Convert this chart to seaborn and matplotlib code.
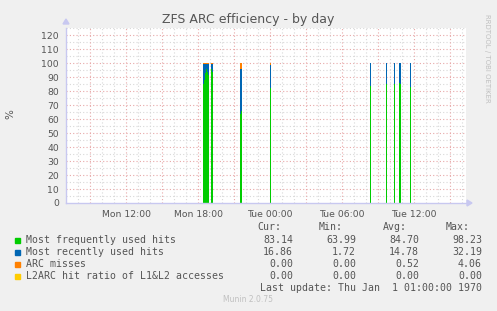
import matplotlib
matplotlib.use("Agg")
import matplotlib.pyplot as plt
import matplotlib.dates as mdates
import seaborn as sns
import pandas as pd
import numpy as np

# ---- data ----
sample_times = ["Mon 18:25", "Mon 18:30", "Mon 18:35", "Mon 18:40", "Mon 18:45", "Mon 18:50",
                "Mon 19:05", "Mon 19:10", "Mon 21:30", "Mon 21:35", "Tue 00:00",
                "Tue 08:20", "Tue 09:40", "Tue 10:20", "Tue 10:45", "Tue 10:50", "Tue 11:40"]
mfu_hits = [85, 88, 93, 96, 94, 92, 96, 94, 64, 66, 82, 84, 85, 85, 86, 85, 83.14]
mru_hits = [14.5, 11.5, 6.5, 3.5, 5.5, 7.5, 3.5, 5.5, 32, 30, 16.5, 16, 15, 15, 14, 15, 16.86]
arc_misses = [0.5, 0.5, 0.5, 0.5, 0.5, 0.5, 0.5, 0.5, 4, 4, 1.5, 0, 0, 0, 0, 0, 0]
l2arc_ratio = [0] * len(sample_times)

series_names = ["Most frequently used hits", "Most recently used hits", "ARC misses",
                "L2ARC hit ratio of L1&L2 accesses"]
series_colors = ["#00CC00", "#0066B3", "#FF8000", "#FFCC00"]
stat_cur = ["83.14", "16.86", "0.00", "0.00"]
stat_min = ["63.99", "1.72", "0.00", "0.00"]
stat_avg = ["84.70", "14.78", "0.52", "0.00"]
stat_max = ["98.23", "32.19", "4.06", "0.00"]

x_tick_labels = ["Mon 12:00", "Mon 18:00", "Tue 00:00", "Tue 06:00", "Tue 12:00"]

# ---- helpers ----
base = pd.Timestamp("2024-01-01")  # a Monday
def to_ts(s):
    day, hm = s.split()
    h, m = map(int, hm.split(":"))
    return base + pd.Timedelta(days=(0 if day == "Mon" else 1), hours=h, minutes=m)

df = pd.DataFrame({
    "time": [to_ts(s) for s in sample_times],
    series_names[0]: mfu_hits,
    series_names[1]: mru_hits,
    series_names[2]: arc_misses,
    series_names[3]: l2arc_ratio,
})

sns.set_theme(style="white")
plt.rcParams["font.family"] = ["DejaVu Sans"]

W, H = 497, 311
fig = plt.figure(figsize=(W / 100, H / 100), dpi=100, facecolor="#F0F0F0")
L, R, T, B = 66, 466, 28, 203
ax = fig.add_axes([L / W, (H - B) / H, (R - L) / W, (B - T) / H])
ax.set_facecolor("white")

xmin = base + pd.Timedelta(hours=7)
xmax = xmin + pd.Timedelta(hours=400 * 5 / 60)
ax.set_xlim(mdates.date2num(xmin), mdates.date2num(xmax))
ax.set_ylim(0, 125.3)

# grid
minor_c = "#d8d8d8"
major_c = "#e8a8a8"
for v in np.arange(5, 126, 5):
    c = major_c if v % 10 == 0 else minor_c
    ax.axhline(v, color=c, lw=0.8, ls=(0, (1, 2)), zorder=0)
h = xmin + pd.Timedelta(hours=1)
while h < xmax:
    c = major_c if h.hour % 3 == 0 else minor_c
    ax.axvline(mdates.date2num(h), color=c, lw=0.8, ls=(0, (1, 2)), zorder=0)
    h += pd.Timedelta(hours=1)

# stacked bars
xnum = mdates.date2num(df["time"])
width = 5 / 1440
bottom = np.zeros(len(df))
for name, col in zip(series_names, series_colors):
    vals = df[name].to_numpy(dtype=float)
    ax.bar(xnum, vals, width=width, bottom=bottom, color=col, align="edge",
           linewidth=0, zorder=2)
    bottom = bottom + vals

# axes styling
for s in ["top", "right"]:
    ax.spines[s].set_visible(False)
for s in ["left", "bottom"]:
    ax.spines[s].set_color("#c8c8f0")
    ax.spines[s].set_linewidth(1.0)

ax.set_yticks(np.arange(0, 121, 10))
ax.set_yticklabels([str(v) for v in range(0, 121, 10)])
tick_pos = [mdates.date2num(to_ts(s)) for s in x_tick_labels]
ax.set_xticks(tick_pos)
ax.set_xticklabels(x_tick_labels)
ax.tick_params(axis="both", labelsize=6.7, colors="#555555", length=2, width=0.8, pad=3)
ax.tick_params(axis="x", colors=major_c, labelcolor="#555555")
ax.tick_params(axis="y", colors=major_c, labelcolor="#555555")
ax.set_ylabel("")
fig.text(10 / W, 1 - 114 / H, "%", rotation=90, ha="center", va="center",
         fontsize=7.5, color="#555555")

# arrows
fig.patches.append(plt.Polygon([[(L - 3) / W, (H - 24) / H], [(L + 3) / W, (H - 24) / H], [L / W, (H - 19) / H]],
                               closed=True, transform=fig.transFigure, color="#c8c8f0"))
fig.patches.append(plt.Polygon([[(R + 1) / W, (H - B - 3) / H], [(R + 1) / W, (H - B + 3) / H], [(R + 6) / W, (H - B) / H]],
                               closed=True, transform=fig.transFigure, color="#c8c8f0"))

# title
fig.text(248.5 / W, 1 - 19.5 / H, "ZFS ARC efficiency - by day", ha="center", va="center",
         fontsize=9.0, color="#555555")
fig.text(487.5 / W, 1 - 58.5 / H, "RRDTOOL / TOBI OETIKER", rotation=270, ha="center", va="center",
         fontsize=5.0, color="#c0c0c0")

# legend
mono = "DejaVu Sans Mono"
fs = 7.1
tc = "#555555"
def ty(y):
    return 1 - y / H
for lbl, xr in zip(["Cur:", "Min:", "Avg:", "Max:"], [281, 343, 407, 470]):
    fig.text(xr / W, ty(227), lbl, ha="right", va="center", family=mono, fontsize=fs, color=tc)
rows_y = [240, 252, 264, 276]
for i, name in enumerate(series_names):
    y = rows_y[i]
    fig.patches.append(plt.Rectangle((14.5 / W, ty(y + 2.5)), 5 / W, 5 / H,
                                     transform=fig.transFigure, color=series_colors[i]))
    fig.text(26 / W, ty(y), name, ha="left", va="center", family=mono, fontsize=fs, color=tc)
    for val, xr in zip([stat_cur[i], stat_min[i], stat_avg[i], stat_max[i]], [293, 356, 419, 482]):
        fig.text(xr / W, ty(y), val, ha="right", va="center", family=mono, fontsize=fs, color=tc)
fig.text(482 / W, ty(288), "Last update: Thu Jan  1 01:00:00 1970", ha="right", va="center",
         family=mono, fontsize=fs, color=tc)
fig.text(248 / W, ty(299.5), "Munin 2.0.75", ha="center", va="center", fontsize=5.5, color="#c0c0c0")

fig.savefig("out.png", dpi=100, facecolor=fig.get_facecolor())
